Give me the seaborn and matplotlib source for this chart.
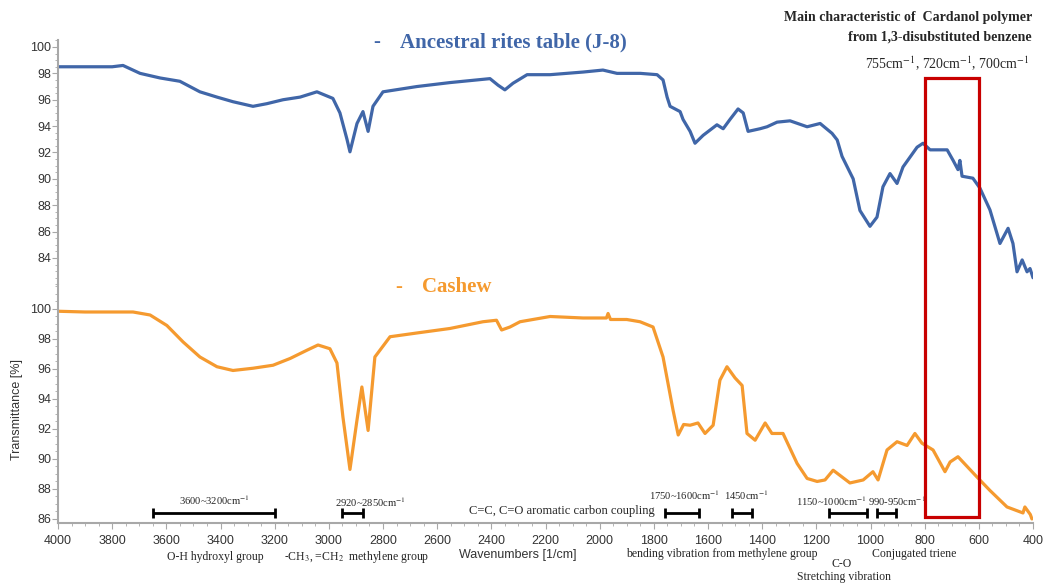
import numpy as np
import pandas as pd
import seaborn as sns
import matplotlib.pyplot as plt
from matplotlib.patches import Rectangle
from matplotlib.ticker import MultipleLocator
import matplotlib.transforms as mtransforms

sns.set_style("white")
plt.rcParams["font.family"] = ["Liberation Sans Narrow", "Liberation Sans", "DejaVu Sans"]
plt.rcParams["mathtext.fontset"] = "stix"

# wavenumber [1/cm] and transmittance [%]
j8_wn = [4000, 3900, 3800, 3760, 3697, 3623, 3550, 3476, 3413, 3354, 3280, 3229, 3169,
         3106, 3044, 2985, 2959, 2933, 2922, 2896, 2874, 2855, 2837, 2800, 2675, 2553,
         2405, 2375, 2350, 2320, 2268, 2183, 2061, 1988, 1936, 1850, 1788, 1766, 1751,
         1740, 1703, 1692, 1666, 1648, 1618, 1567, 1544, 1519, 1489, 1470, 1452, 1408,
         1382, 1345, 1297, 1234, 1186, 1142, 1123, 1105, 1064, 1039, 1002, 976, 954,
         928, 902, 880, 828, 806, 780, 717, 695, 677, 670, 662, 622, 596, 559, 522,
         492, 474, 459, 440, 422, 411, 400]
j8_t = [98.5, 98.5, 98.5, 98.6, 98.0, 97.65, 97.4, 96.6, 96.2, 95.85, 95.5, 95.7, 96.0,
        96.2, 96.6, 96.1, 95.0, 93.0, 92.05, 94.2, 95.1, 93.6, 95.5, 96.6, 97.0, 97.3,
        97.6, 97.1, 96.75, 97.25, 97.9, 97.9, 98.1, 98.25, 98.0, 98.0, 97.9, 97.5, 96.2,
        95.5, 95.1, 94.5, 93.6, 92.7, 93.3, 94.1, 93.8, 94.5, 95.3, 95.0, 93.6, 93.8,
        93.95, 94.3, 94.4, 93.95, 94.2, 93.45, 92.95, 91.7, 90.0, 87.6, 86.4, 87.1, 89.4,
        90.4, 89.65, 90.9, 92.4, 92.7, 92.2, 92.2, 91.4, 90.7, 91.4, 90.2, 90.05, 89.3,
        87.65, 85.1, 86.25, 85.1, 82.95, 83.85, 82.95, 83.2, 82.5]

cashew_wn = [4000, 3900, 3800, 3723, 3660, 3598, 3538, 3476, 3413, 3354, 3280, 3206, 3143,
             3081, 3040, 2996, 2970, 2948, 2922, 2896, 2878, 2855, 2830, 2774, 2675, 2553,
             2431, 2381, 2362, 2331, 2294, 2183, 2061, 1975, 1969, 1960, 1900, 1851, 1803,
             1766, 1729, 1710, 1690, 1666, 1637, 1611, 1581, 1556, 1530, 1500, 1474, 1456,
             1426, 1389, 1364, 1323, 1271, 1234, 1197, 1168, 1138, 1076, 1027, 991, 972,
             939, 902, 865, 836, 810, 769, 725, 706, 677, 607, 559, 496, 437, 430, 410, 404]
cashew_t = [99.85, 99.8, 99.8, 99.8, 99.6, 98.9, 97.8, 96.8, 96.15, 95.9, 96.05, 96.25, 96.7,
            97.25, 97.6, 97.35, 96.4, 92.8, 89.3, 92.6, 94.8, 91.9, 96.8, 98.15, 98.4, 98.7,
            99.15, 99.25, 98.6, 98.8, 99.15, 99.5, 99.4, 99.4, 99.7, 99.3, 99.3, 99.15, 98.8,
            96.8, 93.25, 91.6, 92.3, 92.25, 92.4, 91.7, 92.25, 95.25, 96.15, 95.4, 94.9, 91.7,
            91.25, 92.4, 91.7, 91.7, 89.7, 88.7, 88.5, 88.6, 89.25, 88.4, 88.6, 89.15, 88.6,
            90.6, 91.15, 90.9, 91.7, 91.05, 90.6, 89.15, 89.8, 90.15, 88.8, 87.9, 86.8, 86.4,
            86.8, 86.3, 86.0]

# band markers: start, end, label, label position
band_lo = [3650, 2950, 1759, 1511, 1153, 976]
band_hi = [3200, 2875, 1633, 1437, 1013, 906]
band_labels = ["3600~3200cm$^{-1}$", "2920~2850cm$^{-1}$", "1750~1600cm$^{-1}$",
               "1450cm$^{-1}$", "1150~1000cm$^{-1}$", "990-950cm$^{-1}$"]
band_label_x = [3424, 2848, 1688, 1460, 1145, 903]
band_label_y = [87.27, 87.13, 87.6, 87.6, 87.2, 87.2]

blue = "#4066a8"
orange = "#f59a2f"
grey = "#a8a8a8"
serif = ["Liberation Serif", "DejaVu Serif"]

df_j8 = pd.DataFrame({"wn": j8_wn, "T": j8_t})
df_cashew = pd.DataFrame({"wn": cashew_wn, "T": cashew_t})

fig = plt.figure(figsize=(10.45, 5.83), dpi=100)
W, H = 1045, 583
ax1 = fig.add_axes([58 / W, 1 - 285 / H, 975 / W, 245 / H])
ax2 = fig.add_axes([58 / W, 1 - 523 / H, 975 / W, 238 / H])

sns.lineplot(data=df_j8, x="wn", y="T", ax=ax1, color=blue, lw=2.3, estimator=None)
sns.lineplot(data=df_cashew, x="wn", y="T", ax=ax2, color=orange, lw=2.3, estimator=None)

for ax in (ax1, ax2):
    ax.set_xlim(4000, 400)
    ax.set_xlabel("")
    ax.set_ylabel("")
    for s in ["top", "right"]:
        ax.spines[s].set_visible(False)
    ax.spines["left"].set_color(grey)
    ax.spines["left"].set_linewidth(1.5)
    ax.yaxis.set_minor_locator(MultipleLocator(0.5))
    ax.tick_params(axis="y", which="both", left=True, color=grey, labelsize=9,
                   labelcolor="#333333", pad=1)
    ax.tick_params(axis="y", which="major", length=4)
    ax.tick_params(axis="y", which="minor", length=2)

ax1.set_ylim(81.95, 100.53)
ax1.set_yticks(np.arange(84, 101, 2))
ax1.spines["bottom"].set_visible(False)
ax1.set_xticks([])

ax2.set_ylim(85.73, 101.6)
ax2.set_yticks(np.arange(86, 101, 2))
ax2.set_xticks(np.arange(4000, 399, -200))
ax2.xaxis.set_minor_locator(MultipleLocator(50))
ax2.spines["bottom"].set_color(grey)
ax2.spines["bottom"].set_linewidth(1.5)
ax2.tick_params(axis="x", which="both", bottom=True, color=grey, labelsize=9,
                labelcolor="#333333", pad=4.5)
ax2.tick_params(axis="x", which="major", length=4)
ax2.tick_params(axis="x", which="minor", length=2)

# band bars
bar_y = 86.4
for lo, hi, lab, lx, ly in zip(band_lo, band_hi, band_labels, band_label_x, band_label_y):
    ax2.hlines(bar_y, lo, hi, color="black", lw=2)
    ax2.vlines([lo, hi], bar_y - 0.35, bar_y + 0.35, color="black", lw=2)
    ax2.text(lx, ly, lab, ha="center", va="center", fontsize=7.6, family=serif)

ax2.text(1795, 86.53, "C=C, C=O aromatic carbon coupling", ha="right", va="center",
         fontsize=9, family=serif)

# red box around 800-600 cm-1
trans = mtransforms.blended_transform_factory(ax2.transData, fig.transFigure)
box = Rectangle((800, 1 - 517 / H), -200, 439 / H, transform=trans, fill=False,
                edgecolor="#c80000", lw=2.3, clip_on=False)
fig.patches.append(box)


def ftext(px, py, s, **kw):
    fig.text(px / W, 1 - py / H, s, **kw)


ftext(377, 42, "-", color=blue, fontsize=15, fontweight="bold", family=serif, ha="center", va="center")
ftext(400, 42, "Ancestral rites table (J-8)", color=blue, fontsize=15, fontweight="bold",
      family=serif, ha="left", va="center")
ftext(399, 287, "-", color=orange, fontsize=15, fontweight="bold", family=serif, ha="center", va="center")
ftext(422, 287, "Cashew", color=orange, fontsize=15, fontweight="bold", family=serif,
      ha="left", va="center")

ftext(1032, 17, "Main characteristic of  Cardanol polymer", fontsize=10, fontweight="bold",
      family=serif, ha="right", va="center")
ftext(1032, 37, "from 1,3-disubstituted benzene", fontsize=10, fontweight="bold",
      family=serif, ha="right", va="center")
ftext(1029, 64, "755cm$^{-1}$, 720cm$^{-1}$, 700cm$^{-1}$", fontsize=10, family=serif,
      ha="right", va="center")

ftext(215, 557, "O-H hydroxyl group", fontsize=8.5, family=serif, ha="center", va="center")
ftext(357, 557, "-CH$_3$, =CH$_2$  methylene group", fontsize=8.5, family=serif,
      ha="center", va="center")
ftext(518, 555, "Wavenumbers [1/cm]", fontsize=9, color="#333333", ha="center", va="center")
ftext(722, 554, "bending vibration from methylene group", fontsize=8.5, family=serif,
      ha="center", va="center")
ftext(842, 564, "C-O", fontsize=8.5, family=serif, ha="center", va="center")
ftext(914, 554, "Conjugated triene", fontsize=8.5, family=serif, ha="center", va="center")
ftext(844, 577, "Stretching vibration", fontsize=8.5, family=serif, ha="center", va="center")
ftext(17, 410, "Transmittance [%]", fontsize=9, color="#333333", rotation=90,
      ha="center", va="center")

fig.savefig("out.png", dpi=100)
